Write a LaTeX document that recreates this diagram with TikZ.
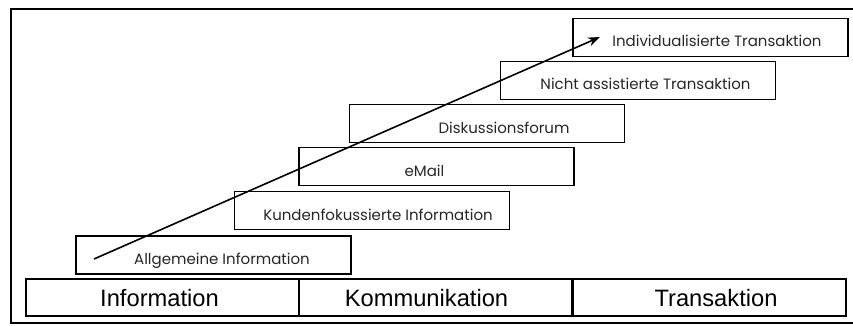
\documentclass[tikz,border=0pt]{standalone}
\usepackage{fontspec}
\setmainfont{Liberation Sans}
\newfontfamily\stepfont{Poppins}
\usetikzlibrary{arrows.meta}
\begin{document}
\begin{tikzpicture}[x=1pt,y=-1pt,
  stepbox/.style={draw, line width=1.2pt, minimum width=275pt, minimum height=38pt, inner sep=0pt},
  steplabel/.style={anchor=base, inner sep=0pt, font=\stepfont\fontsize{15}{17}\selectfont, text=black!85},
  phasebox/.style={draw, line width=1.3pt, minimum width=273pt, minimum height=37pt, inner sep=0pt},
  phaselabel/.style={anchor=base, inner sep=0pt, font=\fontsize{23.7}{27}\selectfont},
  frameline/.style={line width=1.4pt},
  trend/.style={line width=1.6pt, -{Stealth[length=12pt,width=9pt]}}]
\useasboundingbox (0,0) rectangle (853,326);
% outer frame, open on the right
\draw[frameline] (853,9) -- (11,9) -- (11,323) -- (853,323);
% phases along the bottom
\node[phasebox] (info) at (162.5,297.5) {};
\node[phasebox] (komm) at (435.5,297.5) {};
\node[phasebox] (trans) at (709.5,297.5) {};
\node[phaselabel] (infot) at ([xshift=-3pt,yshift=-8.5pt]info.center) {Information};
\node[phaselabel] (kommt) at ([xshift=-9pt,yshift=-8.5pt]komm.center) {Kommunikation};
\node[phaselabel] (transt) at ([xshift=6.5pt,yshift=-8.5pt]trans.center) {Transaktion};
% stair of service levels
\node[stepbox] (allg) at (213.5,255) {};
\node[stepbox] (kunden) at (372,210.5) {};
\node[stepbox] (email) at (436.5,166.5) {};
\node[stepbox] (forum) at (487,123.5) {};
\node[stepbox] (nicht) at (638,80.5) {};
\node[stepbox] (indiv) at (710.5,37.5) {};
\node[steplabel] (allgt) at ([xshift=8.5pt,yshift=-9.5pt]allg.center) {Allgemeine Information};
\node[steplabel] (kundent) at ([xshift=6pt,yshift=-9.5pt]kunden.center) {Kundenfokussierte Information};
\node[steplabel] (emailt) at ([xshift=-12pt,yshift=-9.5pt]email.center) {eMail};
\node[steplabel] (forumt) at ([xshift=17pt,yshift=-9.5pt]forum.center) {Diskussionsforum};
\node[steplabel] (nichtt) at ([xshift=7.5pt,yshift=-9.5pt]nicht.center) {Nicht assistierte Transaktion};
\node[steplabel] (indivt) at ([xshift=6.5pt,yshift=-9.5pt]indiv.center) {Individualisierte Transaktion};
% rising trend arrow
\coordinate (tstart) at (94,259);
\coordinate (tend) at (600,37);
\draw[trend] (tstart) -- (tend);
\end{tikzpicture}
\end{document}
